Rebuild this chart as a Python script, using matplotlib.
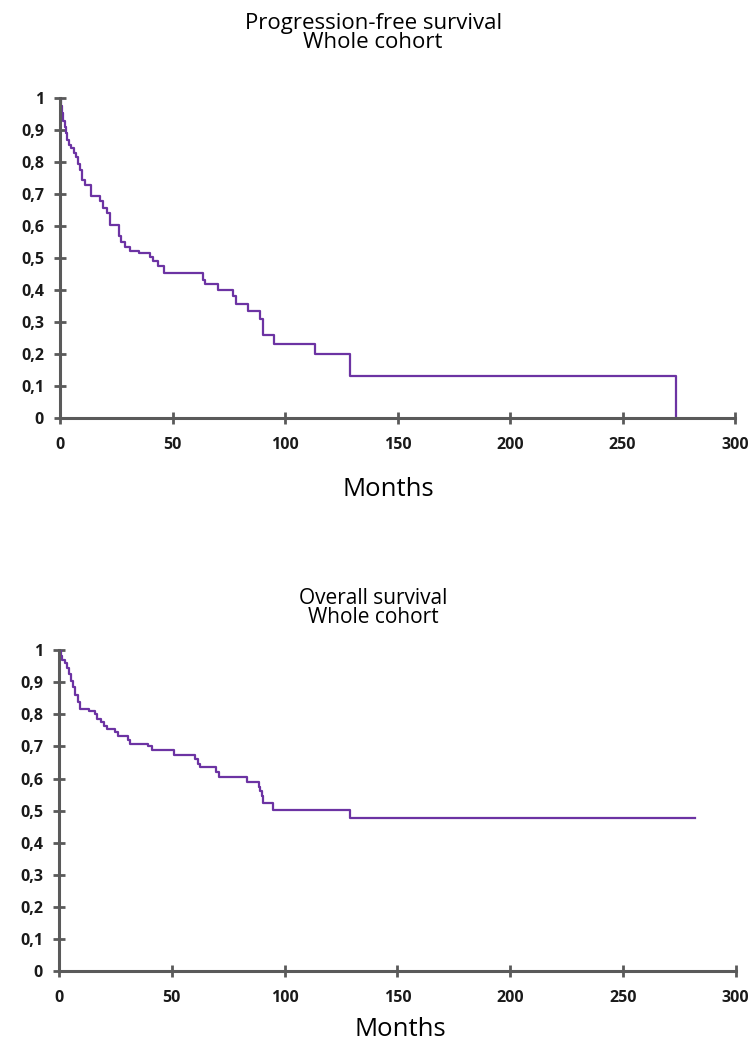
import matplotlib
matplotlib.use("Agg")
import matplotlib.pyplot as plt
import numpy as np

# Kaplan-Meier steps (months, survival after the step)
pfs_months = [0, 0.5, 1.0, 1.5, 2.0, 2.5, 3.0, 4.0, 5.0, 6.0, 7.0, 8.0, 9.0, 9.7,
              11.1, 13.8, 17.8, 19.2, 20.8, 22.3, 26.0, 27.0, 29.0, 31.0, 35.0,
              40.0, 41.5, 43.5, 46.0, 63.5, 64.5, 70.0, 77.0, 78.0, 83.7, 89.0,
              90.0, 95.0, 113.5, 129.0, 273.5]
pfs_surv = [1.0, 0.975, 0.955, 0.93, 0.91, 0.89, 0.87, 0.855, 0.845, 0.83, 0.815,
            0.795, 0.775, 0.745, 0.728, 0.695, 0.68, 0.656, 0.64, 0.605, 0.57,
            0.55, 0.535, 0.522, 0.515, 0.505, 0.49, 0.475, 0.455, 0.43, 0.418,
            0.40, 0.38, 0.358, 0.336, 0.31, 0.258, 0.232, 0.20, 0.132, 0.0]

os_months = [0, 0.7, 1.5, 2.5, 3.5, 4.5, 5.5, 6.3, 7.3, 8.5, 9.5, 13.5, 15.9, 17.0,
             18.5, 20.0, 21.1, 24.8, 26.2, 30.5, 31.5, 39.5, 41.0, 51.0, 60.2,
             61.5, 62.5, 69.5, 71.0, 83.5, 88.5, 89.2, 89.8, 90.5, 94.8, 128.8, 282.0]
os_surv = [1.0, 0.982, 0.969, 0.96, 0.945, 0.925, 0.905, 0.886, 0.86, 0.84, 0.818,
           0.81, 0.80, 0.785, 0.775, 0.765, 0.755, 0.745, 0.733, 0.72, 0.707, 0.70,
           0.688, 0.673, 0.66, 0.645, 0.635, 0.62, 0.605, 0.59, 0.575, 0.56, 0.545,
           0.525, 0.503, 0.476, 0.476]

x_ticks = [0, 50, 100, 150, 200, 250, 300]
y_ticks = [0, 0.1, 0.2, 0.3, 0.4, 0.5, 0.6, 0.7, 0.8, 0.9, 1.0]
y_labels = ["0", "0,1", "0,2", "0,3", "0,4", "0,5", "0,6", "0,7", "0,8", "0,9", "1"]

line_col = "#6c33a3"
axis_col = "#5a5a5a"
plt.rcParams['font.family'] = ['Open Sans', 'DejaVu Sans']

fig = plt.figure(figsize=(7.51, 10.45), dpi=100)


def km_panel(rect, months, surv):
    ax = fig.add_axes(rect)
    ax.step(months, surv, where='post', color=line_col, lw=1.6)
    ax.set_xlim(0, 300)
    ax.set_ylim(0, 1)
    ax.set_xticks(x_ticks)
    ax.set_xticklabels([str(v) for v in x_ticks])
    ax.set_yticks(y_ticks)
    ax.set_yticklabels(y_labels)
    for s in ['top', 'right']:
        ax.spines[s].set_visible(False)
    for s in ['left', 'bottom']:
        ax.spines[s].set_color(axis_col)
        ax.spines[s].set_linewidth(2.2)
    ax.tick_params(direction='inout', length=9, width=2, color=axis_col,
                   labelsize=11.5, labelcolor='#1a1a1a')
    ax.tick_params(axis='x', pad=9)
    ax.tick_params(axis='y', pad=7)
    for lab in ax.get_xticklabels() + ax.get_yticklabels():
        lab.set_fontweight('bold')
    return ax


ax1 = km_panel([0.0799, 0.600, 0.899, 0.306], pfs_months, pfs_surv)
ax2 = km_panel([0.0786, 0.0708, 0.901, 0.307], os_months, os_surv)

fig.text(0.497, 1 - 33 / 1045, "Progression-free survival\nWhole cohort",
         ha='center', va='center', fontsize=16, linespacing=0.9)
fig.text(0.517, 1 - 490 / 1045, "Months", ha='center', va='center', fontsize=18.5)

fig.text(0.497, 1 - 608 / 1045, "Overall survival\nWhole cohort",
         ha='center', va='center', fontsize=15, linespacing=0.9)
fig.text(0.533, 1 - 1030 / 1045, "Months", ha='center', va='center', fontsize=18.5)

fig.savefig("out.png", dpi=100)
